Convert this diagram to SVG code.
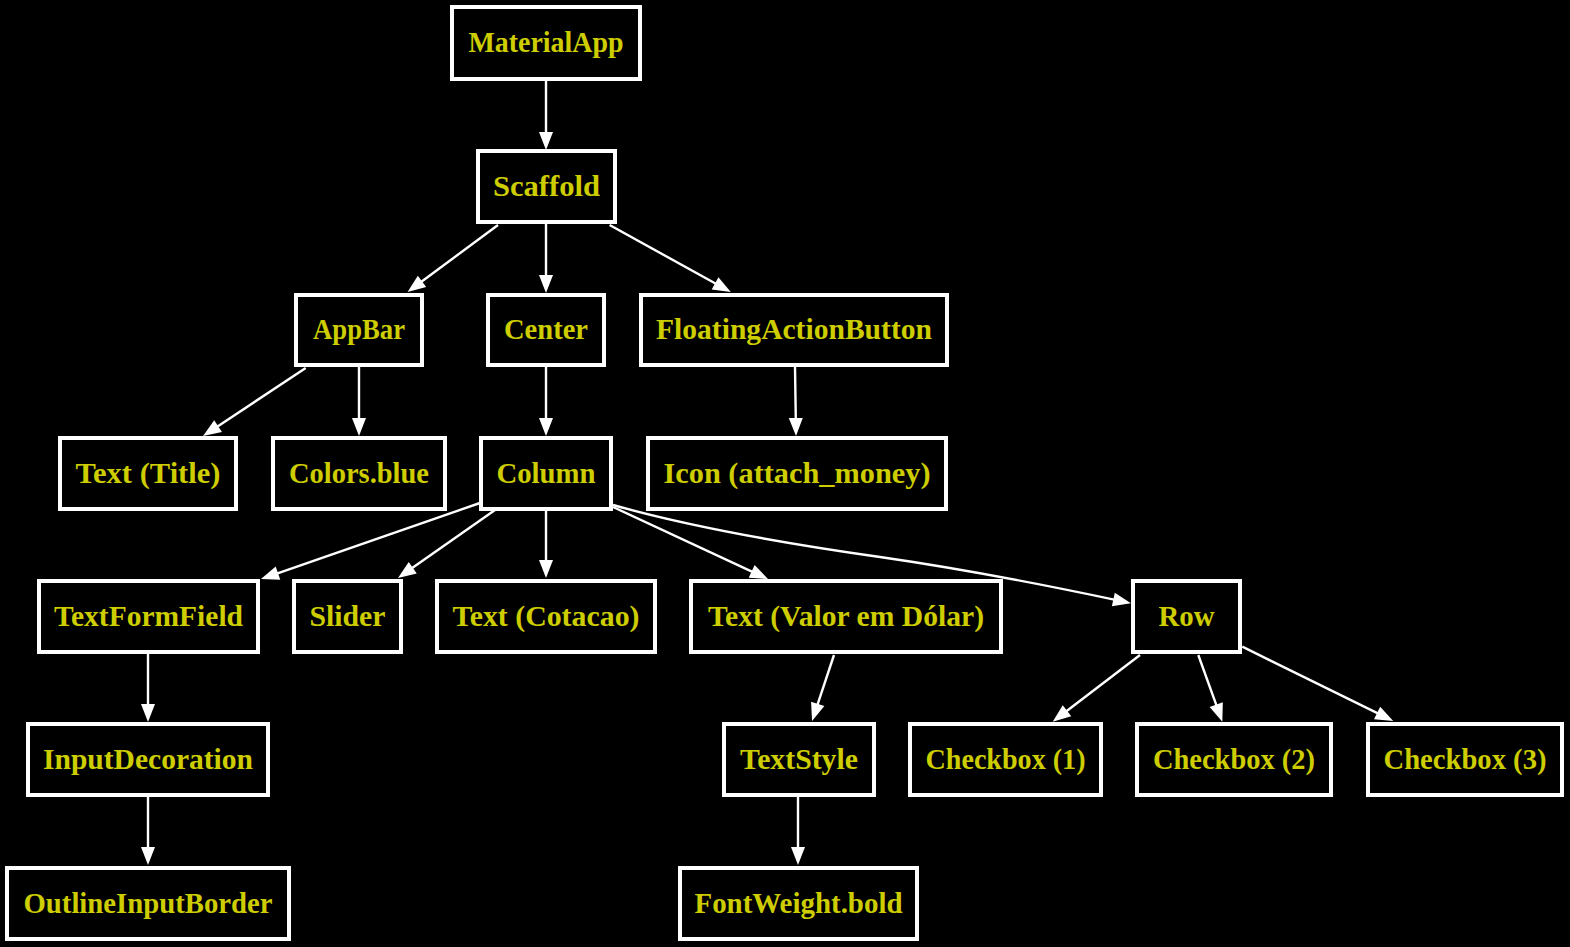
<svg xmlns="http://www.w3.org/2000/svg" width="1570" height="947" viewBox="0 0 1570 947">
<style>
.bg{fill:#000}
.node rect{fill:#000;stroke:#fff;stroke-width:4}
.node text{fill:#cdcd00;font-family:"Liberation Serif","DejaVu Serif",serif;font-weight:bold;font-size:30px;text-anchor:middle}
.edges path{fill:none;stroke:#fff;stroke-width:2.4;marker-end:url(#ah)}
</style>
<defs>
<marker id="ah" markerUnits="userSpaceOnUse" markerWidth="20" markerHeight="16" refX="2" refY="7" orient="auto" overflow="visible">
<path d="M0,0 L18,7 L0,14 z" fill="#fff"/>
</marker>
</defs>
<rect class="bg" x="0" y="0" width="1570" height="947"/>
<g id="edges" class="edges">
<path d="M546,81 L546,134"/>
<path d="M498,225 L420.4,282.5"/>
<path d="M546,224 L546,277"/>
<path d="M609.6,225 L716.8,284.3"/>
<path d="M305.7,368 L216.4,427.2"/>
<path d="M359,367 L359,420"/>
<path d="M546,367 L546,420"/>
<path d="M795,367 L795.8,420"/>
<path d="M480,503 L276.1,573.8"/>
<path d="M495,510 L411.1,568.8"/>
<path d="M546,510 L546,562"/>
<path d="M613,507 L753.5,572.3"/>
<path d="M613,505 C680,524 760,540 880,557 C970,570 1050,586 1115.3,599.9"/>
<path d="M148,654 L148,706"/>
<path d="M148,797 L148,849"/>
<path d="M834,655 L817.1,705.8"/>
<path d="M798,797 L798,849"/>
<path d="M1140,655 L1065.4,712"/>
<path d="M1198.3,655 L1216.9,706.6"/>
<path d="M1242.3,646.7 L1378.9,713.9"/>
</g>
<g id="n_materialapp" class="node"><rect x="452" y="7" width="188" height="72"/><text x="546" y="52" textLength="155" lengthAdjust="spacingAndGlyphs">MaterialApp</text></g>
<g id="n_scaffold" class="node"><rect x="478" y="151" width="137" height="71"/><text x="546.5" y="195.5" textLength="107" lengthAdjust="spacingAndGlyphs">Scaffold</text></g>
<g id="n_appbar" class="node"><rect x="296" y="295" width="126" height="70"/><text x="359" y="339" textLength="92" lengthAdjust="spacingAndGlyphs">AppBar</text></g>
<g id="n_center" class="node"><rect x="488" y="295" width="116" height="70"/><text x="546" y="339" textLength="84" lengthAdjust="spacingAndGlyphs">Center</text></g>
<g id="n_fab" class="node"><rect x="641" y="295" width="306" height="70"/><text x="794" y="339" textLength="276" lengthAdjust="spacingAndGlyphs">FloatingActionButton</text></g>
<g id="n_texttitle" class="node"><rect x="60" y="438" width="176" height="71"/><text x="148" y="482.5" textLength="145" lengthAdjust="spacingAndGlyphs">Text (Title)</text></g>
<g id="n_colorsblue" class="node"><rect x="273" y="438" width="172" height="71"/><text x="359" y="482.5" textLength="140" lengthAdjust="spacingAndGlyphs">Colors.blue</text></g>
<g id="n_column" class="node"><rect x="481" y="438" width="130" height="71"/><text x="546" y="482.5" textLength="99" lengthAdjust="spacingAndGlyphs">Column</text></g>
<g id="n_icon" class="node"><rect x="648" y="438" width="298" height="71"/><text x="797" y="482.5" textLength="267" lengthAdjust="spacingAndGlyphs">Icon (attach_money)</text></g>
<g id="n_textformfield" class="node"><rect x="39" y="581" width="219" height="71"/><text x="148.5" y="625.5" textLength="189" lengthAdjust="spacingAndGlyphs">TextFormField</text></g>
<g id="n_slider" class="node"><rect x="294" y="581" width="107" height="71"/><text x="347.5" y="625.5" textLength="76" lengthAdjust="spacingAndGlyphs">Slider</text></g>
<g id="n_cotacao" class="node"><rect x="437" y="581" width="218" height="71"/><text x="546" y="625.5" textLength="187" lengthAdjust="spacingAndGlyphs">Text (Cotacao)</text></g>
<g id="n_valor" class="node"><rect x="691" y="581" width="310" height="71"/><text x="846" y="625.5" textLength="276" lengthAdjust="spacingAndGlyphs">Text (Valor em Dólar)</text></g>
<g id="n_row" class="node"><rect x="1133" y="581" width="107" height="71"/><text x="1186.5" y="625.5" textLength="56" lengthAdjust="spacingAndGlyphs">Row</text></g>
<g id="n_inputdecoration" class="node"><rect x="28" y="724" width="240" height="71"/><text x="148" y="768.5" textLength="210" lengthAdjust="spacingAndGlyphs">InputDecoration</text></g>
<g id="n_textstyle" class="node"><rect x="724" y="724" width="150" height="71"/><text x="799" y="768.5" textLength="118" lengthAdjust="spacingAndGlyphs">TextStyle</text></g>
<g id="n_checkbox1" class="node"><rect x="910" y="724" width="191" height="71"/><text x="1005.5" y="768.5" textLength="160" lengthAdjust="spacingAndGlyphs">Checkbox (1)</text></g>
<g id="n_checkbox2" class="node"><rect x="1137" y="724" width="194" height="71"/><text x="1234" y="768.5" textLength="162" lengthAdjust="spacingAndGlyphs">Checkbox (2)</text></g>
<g id="n_checkbox3" class="node"><rect x="1368" y="724" width="194" height="71"/><text x="1465" y="768.5" textLength="163" lengthAdjust="spacingAndGlyphs">Checkbox (3)</text></g>
<g id="n_outlineinputborder" class="node"><rect x="7" y="868" width="282" height="71"/><text x="148" y="912.5" textLength="249" lengthAdjust="spacingAndGlyphs">OutlineInputBorder</text></g>
<g id="n_fontweightbold" class="node"><rect x="680" y="868" width="237" height="71"/><text x="798.5" y="912.5" textLength="208" lengthAdjust="spacingAndGlyphs">FontWeight.bold</text></g>
</svg>
